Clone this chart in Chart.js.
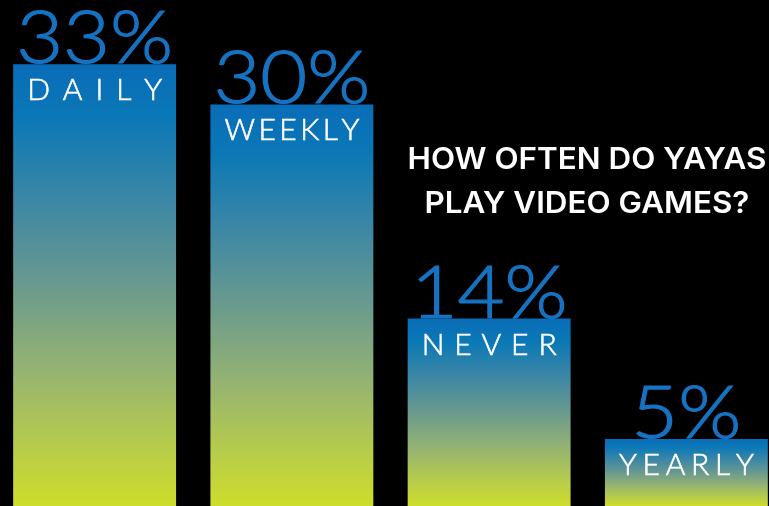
<!DOCTYPE html>
<html>
<head>
<meta charset="utf-8">
<script src="https://cdn.jsdelivr.net/npm/chart.js@4"></script>
<style>
  html, body { margin: 0; padding: 0; background: #000; overflow: hidden; }
  #wrap { position: absolute; left: -4px; top: 0; width: 789px; height: 506px; }
</style>
</head>
<body>
<div id="wrap"><canvas id="chart"></canvas></div>
<script>
// How often do yayas play video games — share of respondents
const categories = ['DAILY', 'WEEKLY', 'NEVER', 'YEARLY'];
const shares = [33, 30, 14, 5];
const shareLabels = ['33%', '30%', '14%', '5%'];
const titleLines = ['HOW OFTEN DO YAYAS', 'PLAY VIDEO GAMES?'];

const BLUE = '#1673c2';
const STOPS = [
  [0, '#0a6cb8'], [0.12, '#0a78b6'], [0.3, '#3a86a6'], [0.5, '#6a9a8e'],
  [0.7, '#97b470'], [0.88, '#b9ce48'], [1, '#cddd2a']
];

// each bar gets its own blue -> yellow-green fade, top to bottom
const barFill = (c) => {
  const chart = c.chart;
  if (!chart.chartArea || !chart.scales.y) return BLUE;
  const y = chart.scales.y;
  const top = y.getPixelForValue(shares[c.dataIndex]);
  const bottom = y.getPixelForValue(0);
  const g = chart.ctx.createLinearGradient(0, top, 0, bottom);
  STOPS.forEach(([p, col]) => g.addColorStop(p, col));
  return g;
};

const labelPlugin = {
  id: 'labels',
  afterDatasetsDraw(chart) {
    const ctx = chart.ctx;
    const bars = chart.getDatasetMeta(0).data;
    ctx.save();

    // big percentages sitting on the bar tops
    ctx.font = '300 72px Lato';
    ctx.fillStyle = BLUE;
    ctx.strokeStyle = BLUE;
    ctx.lineWidth = 1.2;
    ctx.textBaseline = 'alphabetic';
    ctx.textAlign = 'center';
    const sx = 157 / ctx.measureText('33%').width;
    bars.forEach((b, i) => {
      ctx.save();
      ctx.translate(b.x, b.y - 1);
      ctx.scale(sx, 1);
      ctx.fillText(shareLabels[i], 0, 0);
      ctx.strokeText(shareLabels[i], 0, 0);
      ctx.restore();
    });

    // spaced category names inside the bar top
    ctx.font = '300 30px Lato';
    ctx.fillStyle = '#fff';
    ctx.strokeStyle = '#fff';
    ctx.lineWidth = 0.6;
    ctx.textAlign = 'left';
    const span = 135;
    bars.forEach((b, i) => {
      const chars = categories[i].split('');
      const w = chars.reduce((s, ch) => s + ctx.measureText(ch).width, 0);
      const gap = (span - w) / (chars.length - 1);
      let x = b.x - span / 2;
      chars.forEach(ch => {
        ctx.fillText(ch, x, b.y + 36);
        ctx.strokeText(ch, x, b.y + 36);
        x += ctx.measureText(ch).width + gap;
      });
    });

    // title block on the right
    ctx.font = '600 30px Inter';
    ctx.textAlign = 'center';
    const tx = 359 / ctx.measureText(titleLines[0]).width;
    titleLines.forEach((line, i) => {
      ctx.save();
      ctx.translate(591, 169 + i * 44);
      ctx.scale(tx, 1);
      ctx.fillText(line, 0, 0);
      ctx.restore();
    });
    ctx.restore();
  }
};

new Chart(document.getElementById('chart'), {
  type: 'bar',
  data: {
    labels: categories,
    datasets: [{
      data: shares,
      backgroundColor: barFill,
      borderWidth: 0,
      categoryPercentage: 1,
      barPercentage: 0.826
    }]
  },
  options: {
    responsive: true, maintainAspectRatio: false, animation: false,
    layout: { padding: 0 },
    plugins: { legend: { display: false }, tooltip: { enabled: false } },
    scales: {
      x: { display: false },
      y: { display: false, min: 0, max: 37.8 }
    }
  },
  plugins: [labelPlugin]
});
</script>
</body>
</html>
